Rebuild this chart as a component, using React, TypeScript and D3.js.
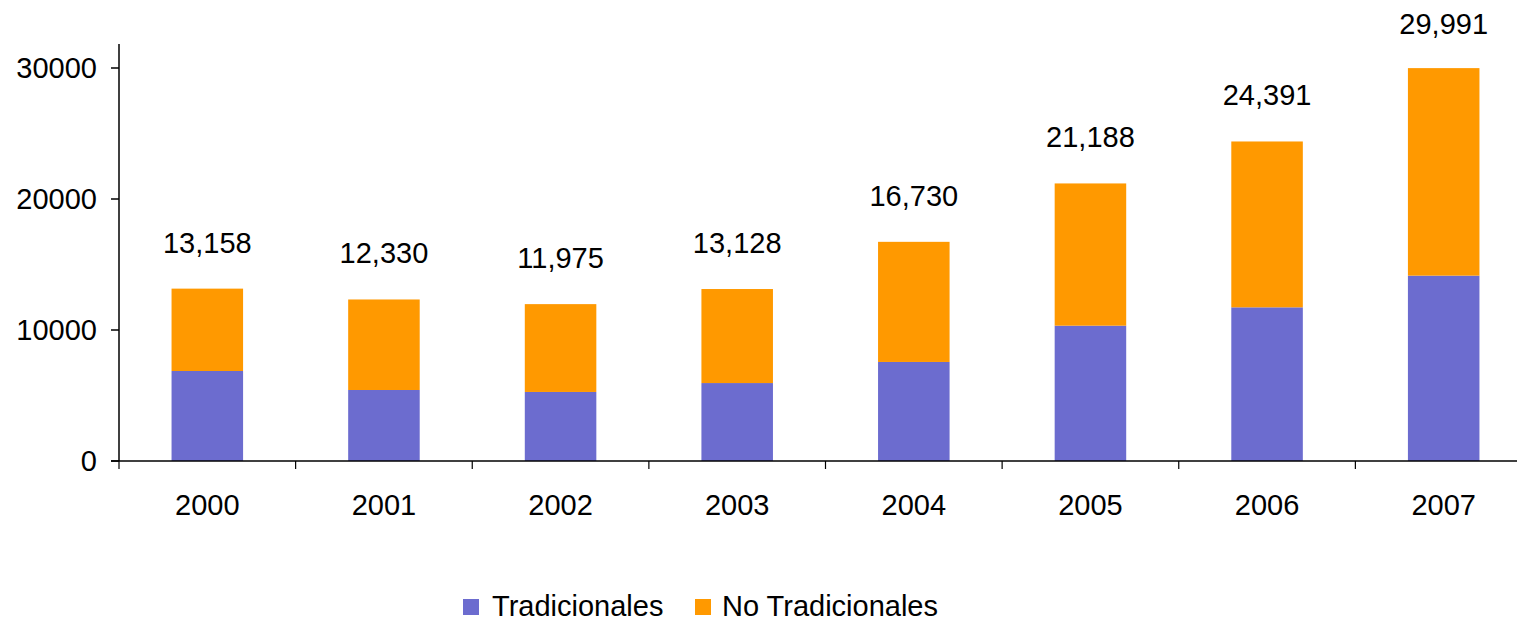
import React from "react";
import * as d3 from "d3";

const years = ["2000", "2001", "2002", "2003", "2004", "2005", "2006", "2007"];
const tradicionales = [6870, 5420, 5270, 5950, 7560, 10330, 11730, 14150];
const noTradicionales = [6288, 6910, 6705, 7178, 9170, 10858, 12661, 15841];
const totalLabels = ["13,158", "12,330", "11,975", "13,128", "16,730", "21,188", "24,391", "29,991"];
const yTicks = [0, 10000, 20000, 30000];
const seriesNames = ["Tradicionales", "No Tradicionales"];
const colors = ["#6C6CCF", "#FF9900"];

const W = 1517;
const H = 623;
const FONT = "'Liberation Sans', Arial, sans-serif";
const FS = 29;

export default function App() {
  const x = d3.scaleBand<string>().domain(years).range([119, 1532]).padding(0);
  const y = d3.scaleLinear().domain([0, 30000]).range([461, 68]);
  const yTop = 44;
  const barW = x.bandwidth() * 0.405;

  const data = years.map((yr, i) => ({ year: yr, trad: tradicionales[i], notrad: noTradicionales[i] }));
  const stack = d3.stack<any>().keys(["trad", "notrad"]);
  const series = stack(data);

  return (
    <svg width={W} height={H} style={{ position: "absolute", left: 0, top: 0, background: "#fff" }} fontFamily={FONT}>
      <rect x={0} y={0} width={W} height={H} fill="#fff" />
      {series.map((s, si) => (
        <g key={si}>
          {s.map((d, i) => {
            const cx = (x(years[i]) as number) + x.bandwidth() / 2;
            return (
              <rect
                key={i}
                x={cx - barW / 2}
                y={y(d[1])}
                width={barW}
                height={y(d[0]) - y(d[1])}
                fill={colors[si]}
              />
            );
          })}
        </g>
      ))}
      {/* y axis */}
      <line x1={119} x2={119} y1={yTop} y2={y(0)} stroke="#000" strokeWidth={1.5} />
      {yTicks.map((t) => (
        <g key={t}>
          <line x1={111} x2={119} y1={y(t)} y2={y(t)} stroke="#000" strokeWidth={1.5} />
          <text x={97} y={y(t)} dy="0.36em" textAnchor="end" fontSize={FS} fill="#000">
            {t}
          </text>
        </g>
      ))}
      {/* x axis */}
      <line x1={111} x2={W} y1={y(0)} y2={y(0)} stroke="#000" strokeWidth={1.5} />
      {years.map((yr, i) => (
        <line
          key={"t" + i}
          x1={x(yr) as number}
          x2={x(yr) as number}
          y1={y(0)}
          y2={y(0) + 8}
          stroke="#000"
          strokeWidth={1.2}
        />
      ))}
      {years.map((yr) => (
        <text
          key={"l" + yr}
          x={(x(yr) as number) + x.bandwidth() / 2}
          y={515}
          textAnchor="middle"
          fontSize={FS}
          fill="#000"
        >
          {yr}
        </text>
      ))}
      {/* totals */}
      {years.map((yr, i) => {
        const top = y(tradicionales[i] + noTradicionales[i]);
        const by = Math.max(top - 36, 34);
        return (
          <text
            key={"v" + yr}
            x={(x(yr) as number) + x.bandwidth() / 2}
            y={by}
            textAnchor="middle"
            fontSize={FS}
            fill="#000"
          >
            {totalLabels[i]}
          </text>
        );
      })}
      {/* legend */}
      <g>
        <rect x={463} y={599} width={16} height={16} fill={colors[0]} />
        <text x={492} y={616} fontSize={FS} fill="#000">{seriesNames[0]}</text>
        <rect x={695} y={599} width={16} height={16} fill={colors[1]} />
        <text x={722} y={616} fontSize={FS} fill="#000">{seriesNames[1]}</text>
      </g>
    </svg>
  );
}
